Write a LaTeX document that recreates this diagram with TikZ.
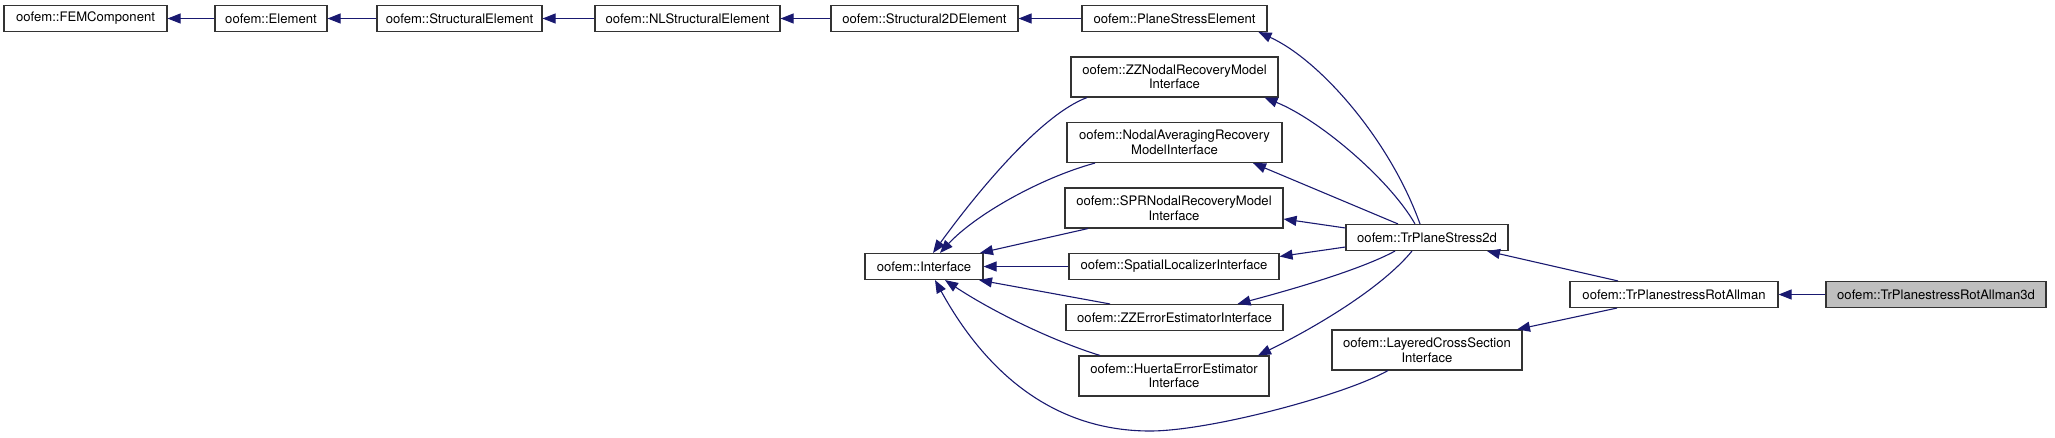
\documentclass[tikz,border=0pt]{standalone}
\usepackage{fontspec}
\setmainfont{TeX Gyre Heros}
\usetikzlibrary{arrows.meta}
\definecolor{edgeblue}{HTML}{191970}
\definecolor{boxgray}{HTML}{BFBFBF}
\begin{document}
\begin{tikzpicture}[x=1pt,y=-1pt,
  cls/.style={draw=black!80, line width=1.1pt, fill=white, minimum height=26pt, inner sep=0pt, align=center, font=\fontsize{13.1}{14.5}\selectfont},
  cls2/.style={cls, minimum height=40pt},
  edge/.style={draw=edgeblue, line width=1.1pt, -{Triangle[length=13pt,width=10pt]}},
]
\useasboundingbox (0,0) rectangle (2055,437);

\node[cls, minimum width=163pt] (fem) at (85.5,18.5) {oofem::FEMComponent};
\node[cls, minimum width=112pt] (elem) at (271,18.5) {oofem::Element};
\node[cls, minimum width=165pt] (selem) at (459.5,18.5) {oofem::StructuralElement};
\node[cls, minimum width=185pt] (nlse) at (687.5,18.5) {oofem::NLStructuralElement};
\node[cls, minimum width=187pt] (s2d) at (924.5,18.5) {oofem::Structural2DElement};
\node[cls, minimum width=185pt] (pse) at (1174.5,18.5) {oofem::PlaneStressElement};
\node[cls2, minimum width=207pt] (zzn) at (1174.5,77) {oofem::ZZNodalRecoveryModel\\Interface};
\node[cls2, minimum width=215pt] (navg) at (1174.5,142.5) {oofem::NodalAveragingRecovery\\ModelInterface};
\node[cls2, minimum width=218pt] (spr) at (1174,208) {oofem::SPRNodalRecoveryModel\\Interface};
\node[cls, minimum width=118pt] (iface) at (924,266.5) {oofem::Interface};
\node[cls, minimum width=210pt] (spat) at (1174,266.5) {oofem::SpatialLocalizerInterface};
\node[cls, minimum width=217pt] (zzerr) at (1174.5,317.5) {oofem::ZZErrorEstimatorInterface};
\node[cls2, minimum width=190pt] (huer) at (1174,376) {oofem::HuertaErrorEstimator\\Interface};
\node[cls, minimum width=162pt] (tps) at (1427,237.5) {oofem::TrPlaneStress2d};
\node[cls2, minimum width=190pt] (lay) at (1427,350) {oofem::LayeredCrossSection\\Interface};
\node[cls, minimum width=208pt] (rot) at (1674,294.5) {oofem::TrPlanestressRotAllman};
\node[cls, minimum width=220pt, fill=boxgray] (rot3d) at (1936,294.5) {oofem::TrPlanestressRotAllman3d};

% top chain
\draw[edge] (elem) -- (fem);
\draw[edge] (selem) -- (elem);
\draw[edge] (nlse) -- (selem);
\draw[edge] (s2d) -- (nlse);
\draw[edge] (pse) -- (s2d);

% TrPlaneStress2d bases
\draw[edge] ([xshift=-7pt]tps.north) .. controls (1390,140) and (1320,60) .. ([xshift=84pt]pse.south);
\draw[edge] ([xshift=-12pt]tps.north) .. controls (1390,180) and (1320,120) .. ([xshift=90pt]zzn.south);
\draw[edge] ([xshift=-29pt]tps.north) -- ([xshift=78.5pt]navg.south);
\draw[edge] ([yshift=9.5pt]tps.west) -- ([yshift=-11pt]spr.east);
\draw[edge] ([yshift=-9.5pt]tps.west) -- ([yshift=10pt]spat.east);
\draw[edge] ([xshift=-32pt]tps.south) .. controls (1360,270) and (1290,290) .. ([xshift=63pt]zzerr.north);
\draw[edge] ([xshift=-15pt]tps.south) .. controls (1380,290) and (1310,330) .. ([xshift=84pt]huer.north);

% RotAllman bases
\draw[edge] ([xshift=-56pt]rot.north) -- ([xshift=60pt]tps.south);
\draw[edge] ([xshift=-57pt]rot.south) -- ([xshift=90pt]lay.north);
\draw[edge] (rot3d) -- (rot);

% Interface
\draw[edge] ([xshift=-87.5pt]zzn.south) .. controls (1040,115) and (975,195) .. ([xshift=9pt]iface.north);
\draw[edge] ([xshift=-79.5pt]navg.south) .. controls (1040,178) and (975,215) .. ([xshift=16pt]iface.north);
\draw[edge] ([xshift=-86pt]spr.south) -- ([xshift=56pt]iface.north);
\draw[edge] (spat) -- (iface);
\draw[edge] ([xshift=-64.5pt]zzerr.north) -- ([xshift=55pt]iface.south);
\draw[edge] ([xshift=-74pt]huer.north) .. controls (1050,340) and (990,310) .. ([xshift=21pt]iface.south);
\coordinate (lowpt) at (1150,431);
\draw[edge] ([xshift=-39pt]lay.south) .. controls (1345,395) and (1210,431) .. (lowpt) .. controls (1060,431) and (990,380) .. ([xshift=11pt]iface.south);
\end{tikzpicture}
\end{document}
